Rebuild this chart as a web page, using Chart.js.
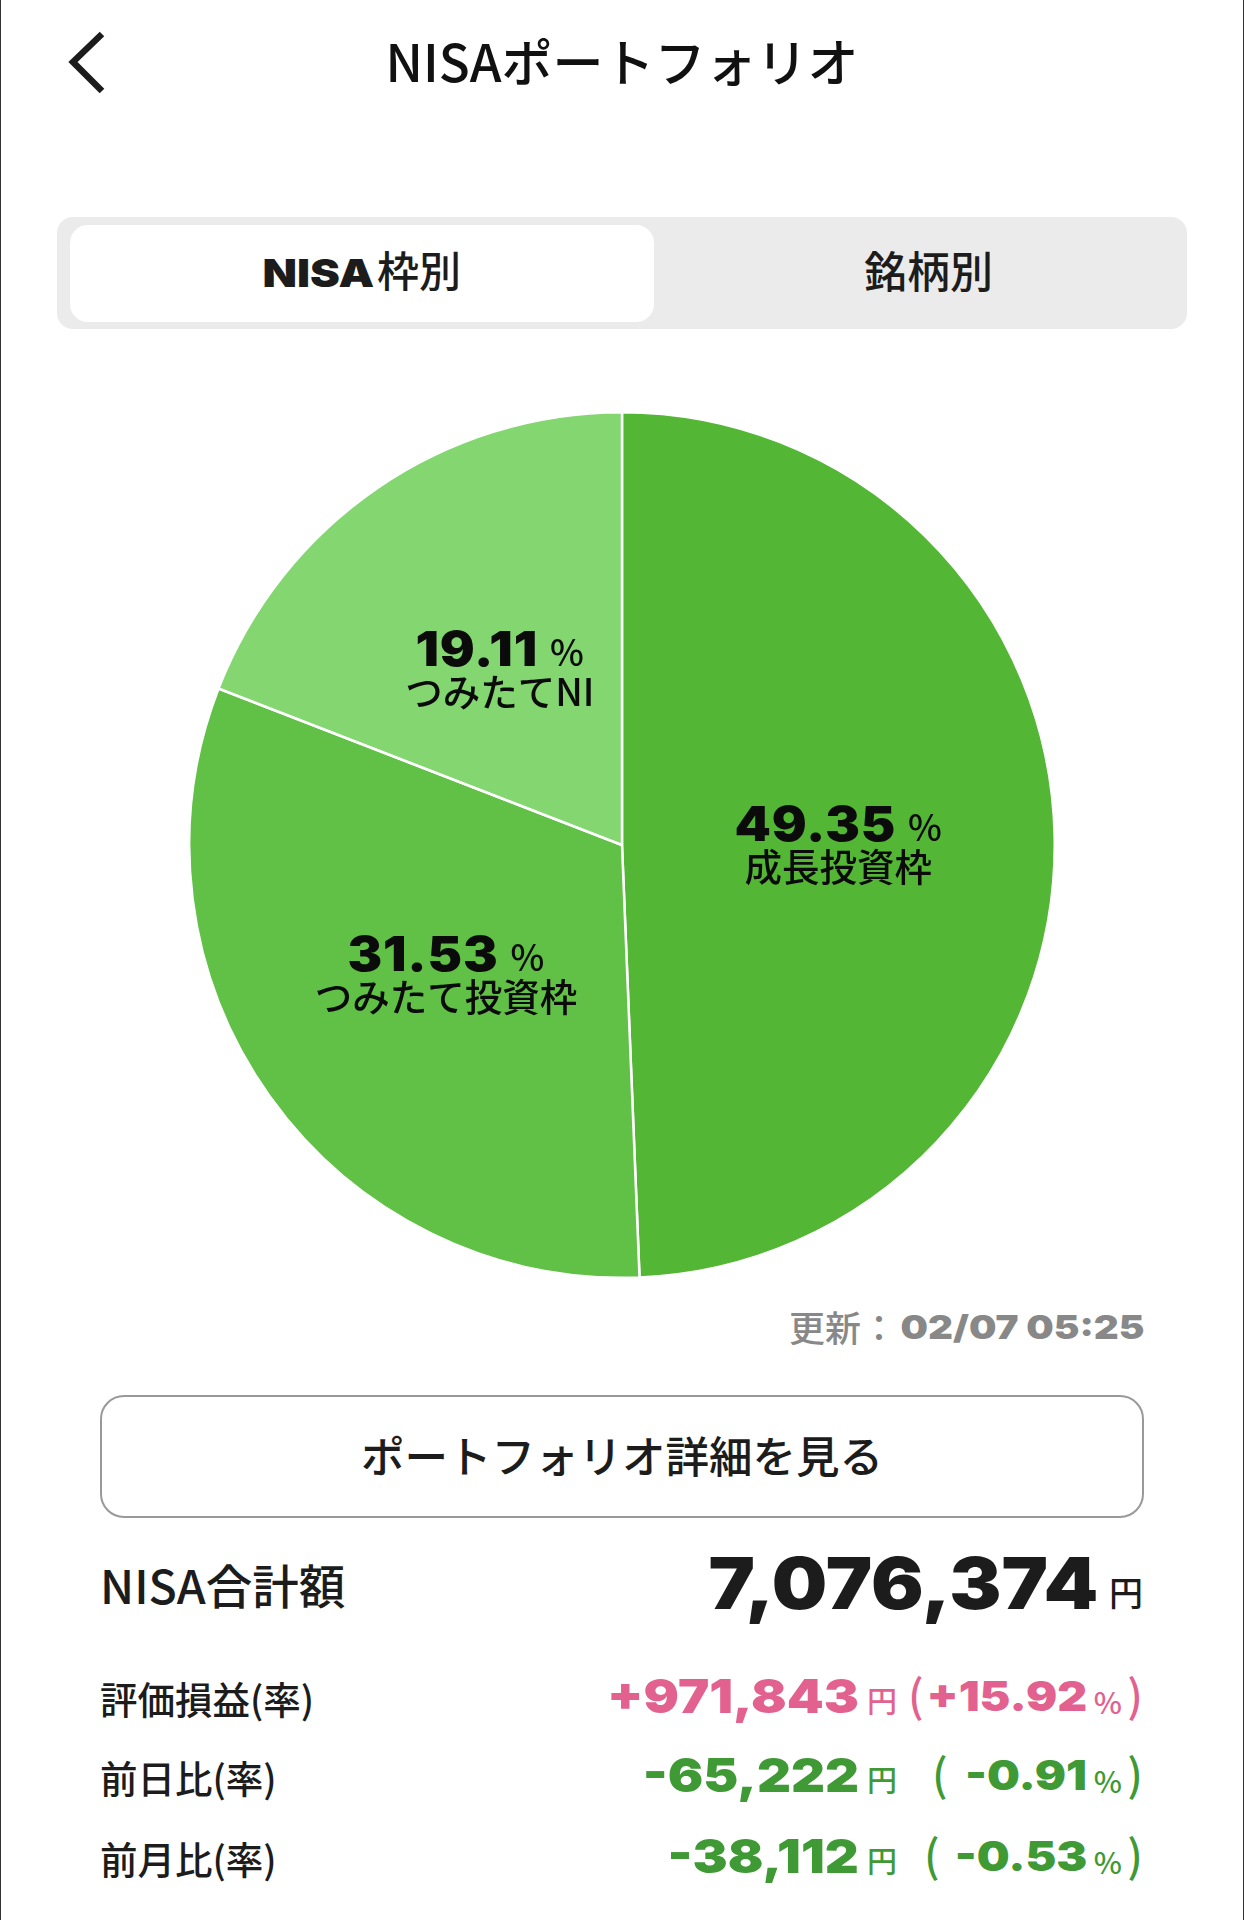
<!DOCTYPE html>
<html lang="ja">
<head>
<meta charset="utf-8">
<title>NISAポートフォリオ</title>
<script src="https://cdn.jsdelivr.net/npm/chart.js@4/dist/chart.umd.min.js"></script>
<style>
html, body { margin: 0; padding: 0; background: #fff; }
body { position: relative; width: 1244px; height: 1920px; overflow: hidden; color: #1c1c1c;
  font-family: "Noto Sans CJK JP", "Noto Sans", sans-serif; font-weight: 500; }
.edge { position: absolute; top: 0; bottom: 0; width: 1px; background: #333; }
.t { position: absolute; white-space: nowrap; line-height: 1; }
.num { font-family: "Inter", sans-serif; font-weight: 900; transform-origin: right center; }
#bar { position: absolute; left: 57px; top: 217px; width: 1130px; height: 112px; background: #ebebeb; border-radius: 16px; }
#tab { position: absolute; left: 70px; top: 225px; width: 584px; height: 97px; background: #fff; border-radius: 18px; }
#btn { position: absolute; left: 100px; top: 1395px; width: 1040px; height: 119px; border: 2.5px solid #999; border-radius: 24px; }
#wrap { position: absolute; left: 188px; top: 411px; width: 868px; height: 868px; }
</style>
</head>
<body>
<div class="edge" style="left:0"></div>
<div class="edge" style="right:0"></div>
<svg style="position:absolute;left:60px;top:25px" width="60" height="76"><path d="M42 9 L13 37 L42 66" fill="none" stroke="#1c1c1c" stroke-width="6.5"/></svg>
<div class="t" style="left:0;width:1244px;text-align:center;top:35px;font-size:51px;color:#111">NISAポートフォリオ</div>
<div id="bar"></div>
<div id="tab"></div>
<div class="t num" style="right:870px;top:253px;font-size:39px;transform:scaleX(1.15)">NISA</div>
<div class="t" style="left:377px;top:248px;font-size:42px">枠別</div>
<div class="t" style="left:662px;width:533px;text-align:center;top:248px;font-size:43px">銘柄別</div>
<div id="wrap"><canvas id="nisaChart"></canvas></div>
<div class="t" style="left:789px;top:1308px;font-size:36px;color:#888">更新：</div>
<div class="t num" style="right:100px;top:1311px;font-size:33px;color:#888;transform:scaleX(1.17)">02/07 05:25</div>
<div id="btn"></div>
<div class="t" style="left:0;width:1244px;text-align:center;top:1433px;font-size:43.5px">ポートフォリオ詳細を見る</div>
<div class="t" style="left:100px;top:1561px;font-size:46.5px">NISA合計額</div>
<div class="t num" style="right:146px;top:1547px;font-size:72px;transform:scaleX(1.085)">7,076,374</div>
<div class="t" style="right:101px;top:1575px;font-size:34px">円</div>
<div id="rows"></div>
<script>
const categories = ['成長投資枠', 'つみたて投資枠', 'つみたてNI'];
const shares = [49.35, 31.53, 19.11];
const sliceColors = ['#54b635', '#60c146', '#83d670'];

const rowLabels = ['評価損益(率)', '前日比(率)', '前月比(率)'];
const rowAmounts = ['+971,843', '-65,222', '-38,112'];
const rowRates = ['+15.92', '-0.91', '-0.53'];
const rowColors = ['#e2618f', '#3f9a35', '#3f9a35'];
const rowTops = [1698, 1777, 1858];
const rowOpenParen = [908, 932, 924];

// table rows under the pie
const rows = document.getElementById('rows');
rowLabels.forEach(function (label, i) {
    const y = rowTops[i];
    const c = rowColors[i];
    rows.innerHTML +=
        '<div class="t" style="left:100px;top:' + (y - 19) + 'px;font-size:37.5px">' + label + '</div>' +
        '<div class="t num" style="right:385px;top:' + (y - 26) + 'px;font-size:47px;transform:scaleX(1.12);color:' + c + '">' + rowAmounts[i] + '</div>' +
        '<div class="t" style="right:347px;top:' + (y - 14) + 'px;font-size:30px;color:' + c + '">円</div>' +
        '<div class="t" style="left:' + rowOpenParen[i] + 'px;top:' + (y - 27) + 'px;font-size:44px;color:' + c + '">(</div>' +
        '<div class="t num" style="right:157px;top:' + (y - 22) + 'px;font-size:41px;transform:scaleX(1.13);color:' + c + '">' + rowRates[i] + '</div>' +
        '<div class="t" style="right:122px;top:' + (y - 12) + 'px;font-size:30px;color:' + c + '">%</div>' +
        '<div class="t" style="right:101px;top:' + (y - 27) + 'px;font-size:44px;color:' + c + '">)</div>';
});

// number and name on each slice
const sliceLabels = {
    id: 'sliceLabels',
    afterDatasetsDraw(chart) {
        const ctx = chart.ctx;
        chart.getDatasetMeta(0).data.forEach(function (arc, i) {
            const p = arc.getCenterPoint();
            const num = shares[i].toFixed(2);
            const wide = 1.08;
            ctx.save();
            ctx.fillStyle = '#0b0b0b';
            ctx.textBaseline = 'alphabetic';
            ctx.textAlign = 'left';
            ctx.letterSpacing = '0.8px';
            ctx.font = '900 48px Inter';
            const w1 = ctx.measureText(num).width * wide;
            const left = p.x - (w1 + 12 + 34) / 2;
            ctx.save();
            ctx.translate(left, p.y);
            ctx.scale(wide, 1);
            ctx.fillText(num, 0, 0);
            ctx.restore();
            ctx.letterSpacing = '0px';
            ctx.font = '500 36px "Noto Sans CJK JP"';
            ctx.fillText('%', left + w1 + 12, p.y);
            ctx.font = '500 37.5px "Noto Sans CJK JP"';
            ctx.textAlign = 'center';
            ctx.fillText(categories[i], p.x, p.y + 40);
            ctx.restore();
        });
    }
};

const ctx = document.getElementById('nisaChart').getContext('2d');
const chart = new Chart(ctx, {
    type: 'pie',
    data: {
        labels: categories,
        datasets: [
            {
                data: shares,
                backgroundColor: sliceColors,
                borderColor: '#ffffff',
                borderWidth: 2.5,
            },
        ],
    },
    options: {
        responsive: true,
        maintainAspectRatio: false,
        animation: false,
        plugins: {
            legend: { display: false },
            tooltip: { enabled: false },
        },
    },
    plugins: [sliceLabels],
});
</script>
</body>
</html>
